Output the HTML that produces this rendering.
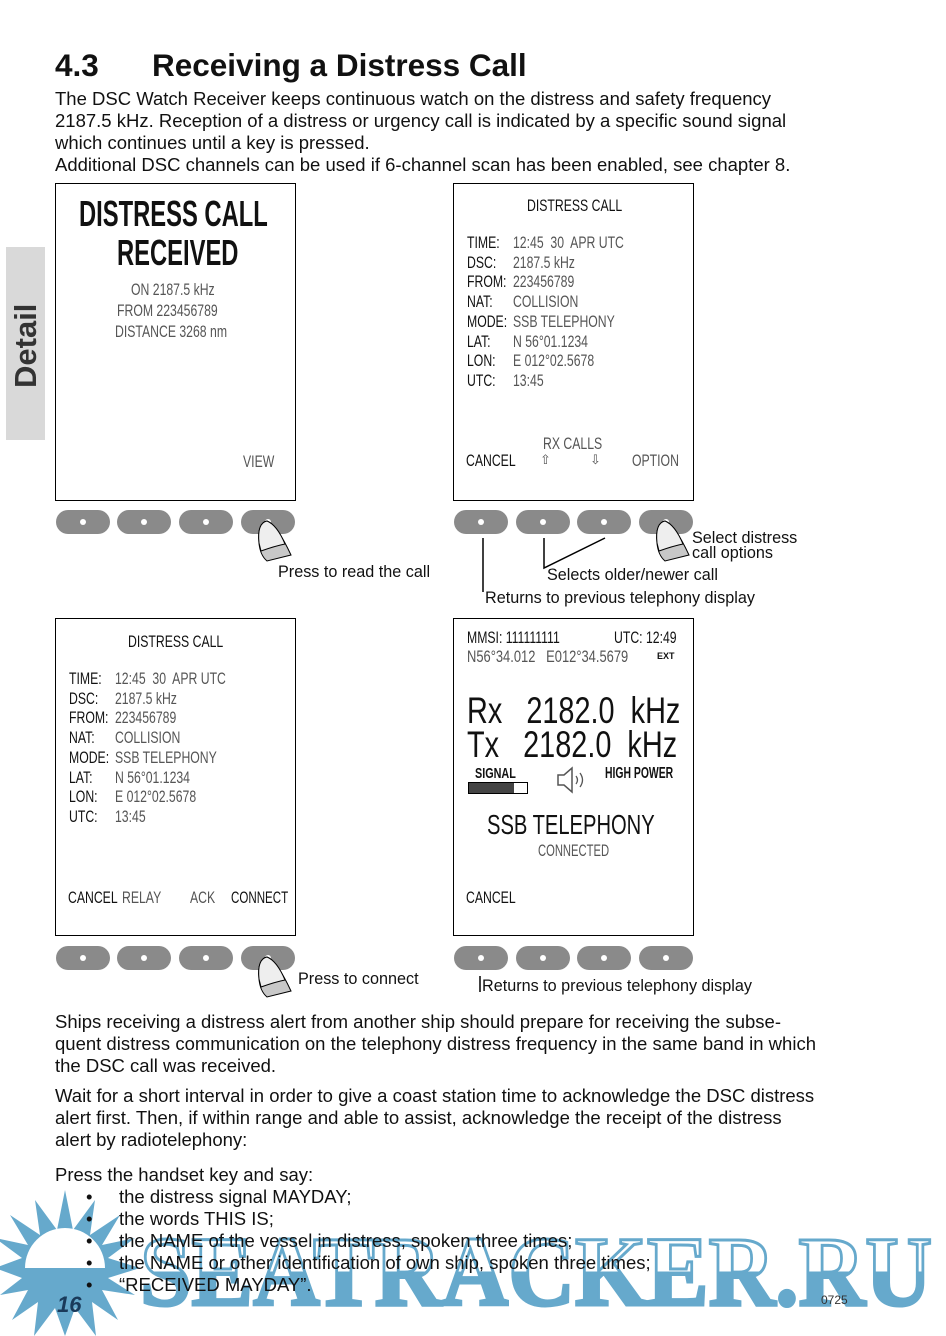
<!DOCTYPE html>
<html><head><meta charset="utf-8"><style>
body{margin:0;width:946px;height:1336px;background:#fff;position:relative;overflow:hidden;font-family:"Liberation Sans",sans-serif;color:#111}
.a{position:absolute;white-space:nowrap}
.l{position:absolute;white-space:nowrap;transform-origin:left top;transform:scaleX(.72);font-family:"Liberation Sans",sans-serif}
.scr{position:absolute;border:1px solid #000;width:239px;height:316px}
.btn{position:absolute;width:54px;height:24px;border-radius:12px;background:#8a8a8a}
.btn::after{content:"";position:absolute;left:24px;top:9px;width:6px;height:6px;border-radius:50%;background:#fff}
.p{font-size:18.5px;line-height:22px}
.g{color:#555}
.cap{font-size:16.2px}
</style></head><body>
<div class="a" style="left:55px;top:47px;font-size:31.5px;font-weight:bold">4.3</div>
<div class="a" style="left:152px;top:47px;font-size:31.5px;font-weight:bold">Receiving a Distress Call</div>
<div class="a p" style="left:55px;top:88px">The DSC Watch Receiver keeps continuous watch on the distress and safety frequency<br>2187.5 kHz. Reception of a distress or urgency call is indicated by a specific sound signal<br>which continues until a key is pressed.<br>Additional DSC channels can be used if 6-channel scan has been enabled, see chapter 8.</div>
<div class="a" style="left:6px;top:247px;width:39px;height:193px;background:#d9d9d9"></div>
<div class="a" style="left:8px;top:388px;font-size:31px;font-weight:bold;color:#333;transform-origin:left top;transform:rotate(-90deg)">Detail</div>

<!-- screen 1 -->
<div class="scr" style="left:55px;top:183px"></div>
<div class="l" style="left:79px;top:193px;font-size:36px;font-weight:bold;transform:scaleX(.66)">DISTRESS CALL</div>
<div class="l" style="left:117px;top:232px;font-size:36px;font-weight:bold;transform:scaleX(.66)">RECEIVED</div>
<div class="l g" style="left:131px;top:280px;font-size:17px">ON 2187.5 kHz</div>
<div class="l g" style="left:117px;top:301px;font-size:17px">FROM 223456789</div>
<div class="l g" style="left:115px;top:322px;font-size:17px">DISTANCE 3268 nm</div>
<div class="l g" style="left:243px;top:452px;font-size:17px">VIEW</div>

<!-- screen 2 -->
<div class="scr" style="left:453px;top:183px"></div>
<div class="l" style="left:527px;top:196px;font-size:17px">DISTRESS CALL</div>
<div class="l" style="left:467px;top:233px;font-size:17px;line-height:19.7px">TIME:<br>DSC:<br>FROM:<br>NAT:<br>MODE:<br>LAT:<br>LON:<br>UTC:</div>
<div class="l g" style="left:513px;top:233px;font-size:17px;line-height:19.7px">12:45&nbsp; 30&nbsp; APR UTC<br>2187.5 kHz<br>223456789<br>COLLISION<br>SSB TELEPHONY<br>N 56°01.1234<br>E 012°02.5678<br>13:45</div>
<div class="l g" style="left:543px;top:434px;font-size:17px">RX CALLS</div>
<div class="l" style="left:466px;top:451px;font-size:17px">CANCEL</div>
<div class="l g" style="left:632px;top:451px;font-size:17px">OPTION</div>
<div class="a g" style="left:540px;top:452px;font-size:13px">⇧</div>
<div class="a g" style="left:590px;top:452px;font-size:13px">⇩</div>

<!-- screen 3 -->
<div class="scr" style="left:55px;top:618px"></div>
<div class="l" style="left:128px;top:632px;font-size:17px">DISTRESS CALL</div>
<div class="l" style="left:69px;top:669px;font-size:17px;line-height:19.7px">TIME:<br>DSC:<br>FROM:<br>NAT:<br>MODE:<br>LAT:<br>LON:<br>UTC:</div>
<div class="l g" style="left:115px;top:669px;font-size:17px;line-height:19.7px">12:45&nbsp; 30&nbsp; APR UTC<br>2187.5 kHz<br>223456789<br>COLLISION<br>SSB TELEPHONY<br>N 56°01.1234<br>E 012°02.5678<br>13:45</div>
<div class="l" style="left:68px;top:888px;font-size:17px">CANCEL</div>
<div class="l g" style="left:122px;top:888px;font-size:17px">RELAY</div>
<div class="l g" style="left:190px;top:888px;font-size:17px">ACK</div>
<div class="l" style="left:231px;top:888px;font-size:17px;transform:scaleX(.68)">CONNECT</div>

<!-- screen 4 -->
<div class="scr" style="left:453px;top:618px"></div>
<div class="l" style="left:467px;top:628px;font-size:17px">MMSI: 111111111</div>
<div class="l" style="left:614px;top:628px;font-size:17px">UTC: 12:49</div>
<div class="l g" style="left:467px;top:647px;font-size:17px;transform:scaleX(.76)">N56°34.012&nbsp;&nbsp; E012°34.5679</div>
<div class="a" style="left:657px;top:651px;font-size:9px;font-weight:bold">EXT</div>
<div class="l" style="left:467px;top:690px;font-size:37px;transform:scaleX(.78)">Rx&nbsp;&nbsp; 2182.0&nbsp; kHz</div>
<div class="l" style="left:467px;top:724px;font-size:37px;transform:scaleX(.78)">Tx&nbsp;&nbsp; 2182.0&nbsp; kHz</div>
<div class="l" style="left:475px;top:765px;font-size:15px;font-weight:bold">SIGNAL</div>
<div class="a" style="left:468px;top:782px;width:58px;height:10px;border:1px solid #000;background:linear-gradient(90deg,#444 78%,#fff 78%)"></div>
<div class="l" style="left:605px;top:765px;font-size:16px;font-weight:bold;transform:scaleX(.65)">HIGH POWER</div>
<svg class="a" style="left:556px;top:766px" width="30" height="28"><path d="M2 9h6l8-7v24l-8-7H2z" fill="none" stroke="#555" stroke-width="1.5"/><path d="M20 10q3 4 0 8M24 7q5 7 0 14" fill="none" stroke="#555" stroke-width="1.3"/></svg>
<div class="l" style="left:487px;top:809px;font-size:28px">SSB TELEPHONY</div>
<div class="l g" style="left:538px;top:841px;font-size:17px;transform:scaleX(.66)">CONNECTED</div>
<div class="l" style="left:466px;top:888px;font-size:17px">CANCEL</div>

<!-- buttons -->
<div class="btn" style="left:56px;top:510px"></div><div class="btn" style="left:117px;top:510px"></div><div class="btn" style="left:179px;top:510px"></div><div class="btn" style="left:241px;top:510px"></div>
<div class="btn" style="left:454px;top:510px"></div><div class="btn" style="left:516px;top:510px"></div><div class="btn" style="left:577px;top:510px"></div><div class="btn" style="left:639px;top:510px"></div>
<div class="btn" style="left:56px;top:946px"></div><div class="btn" style="left:117px;top:946px"></div><div class="btn" style="left:179px;top:946px"></div><div class="btn" style="left:241px;top:946px"></div>
<div class="btn" style="left:454px;top:946px"></div><div class="btn" style="left:516px;top:946px"></div><div class="btn" style="left:577px;top:946px"></div><div class="btn" style="left:639px;top:946px"></div>

<!-- fingers -->
<svg class="a" style="left:255px;top:515px" width="40" height="48"><path d="M4 28 Q2 8 12 6 Q22 10 36 40 L12 46 Q5 40 4 28z" fill="#c8c8c8" stroke="#000"/><path d="M4 28 Q2 8 12 6 Q22 10 30 29 Q20 31 6 36z" fill="#eee" stroke="#000"/></svg>
<svg class="a" style="left:653px;top:515px" width="40" height="48"><path d="M4 28 Q2 8 12 6 Q22 10 36 40 L12 46 Q5 40 4 28z" fill="#c8c8c8" stroke="#000"/><path d="M4 28 Q2 8 12 6 Q22 10 30 29 Q20 31 6 36z" fill="#eee" stroke="#000"/></svg>
<svg class="a" style="left:255px;top:951px" width="40" height="48"><path d="M4 28 Q2 8 12 6 Q22 10 36 40 L12 46 Q5 40 4 28z" fill="#c8c8c8" stroke="#000"/><path d="M4 28 Q2 8 12 6 Q22 10 30 29 Q20 31 6 36z" fill="#eee" stroke="#000"/></svg>

<!-- connector lines -->
<svg class="a" style="left:0;top:0" width="946" height="1336">
<path d="M483 538V592M544 538V568L605 538M480 976V992" stroke="#000" stroke-width="1.5" fill="none"/>
</svg>
<div class="a cap" style="left:278px;top:563px">Press to read the call</div>
<div class="a cap" style="left:692px;top:531px;line-height:15px">Select distress<br>call options</div>
<div class="a cap" style="left:547px;top:566px">Selects older/newer call</div>
<div class="a cap" style="left:485px;top:589px">Returns to previous telephony display</div>
<div class="a cap" style="left:298px;top:970px">Press to connect</div>
<div class="a cap" style="left:482px;top:977px">Returns to previous telephony display</div>

<div class="a p" style="left:55px;top:1011px">Ships receiving a distress alert from another ship should prepare for receiving the subse-<br>quent distress communication on the telephony distress frequency in the same band in which<br>the DSC call was received.</div>
<div class="a p" style="left:55px;top:1085px">Wait for a short interval in order to give a coast station time to acknowledge the DSC distress<br>alert first. Then, if within range and able to assist, acknowledge the receipt of the distress<br>alert by radiotelephony:</div>
<div class="a p" style="left:55px;top:1164px">Press the handset key and say:</div>

<!-- watermark -->
<svg class="a" style="left:0;top:1190px" width="946" height="146">
<defs><linearGradient id="wg" x1="0" y1="0" x2="0" y2="1"><stop offset="0.5" stop-color="#fff"/><stop offset="0.5" stop-color="#66a9cc"/></linearGradient></defs>
<g fill="#66a9cc">
<polygon points="65,0 73,40 95,10 90,45 120,25 102,55 135,48 108,68 140,78 108,88 135,105 102,100 118,130 92,112 96,146 75,118 65,146 55,118 34,146 38,112 12,130 28,100 0,105 22,88 -5,78 22,68 -5,48 28,55 10,25 40,45 35,10 57,40"/>
</g>
<path d="M25 78 A40 40 0 0 1 105 78Z" fill="#fff"/>
<text x="140" y="115" font-family="Liberation Serif,serif" font-weight="bold" font-size="100" textLength="792" lengthAdjust="spacingAndGlyphs" fill="url(#wg)" stroke="#66a9cc" stroke-width="3">SEATRACKER.RU</text>
</svg>
<div class="a p" style="left:86px;top:1186px;line-height:22px">•<br>•<br>•<br>•<br>•</div>
<div class="a p" style="left:119px;top:1186px;line-height:22px">the distress signal MAYDAY;<br>the words THIS IS;<br>the NAME of the vessel in distress, spoken three times;<br>the NAME or other identification of own ship, spoken three times;<br>“RECEIVED MAYDAY”.</div>
<div class="a" style="left:57px;top:1292px;font-size:22px;font-weight:bold;font-style:italic;color:#1a3a5a">16</div>
<div class="a" style="left:821px;top:1293px;font-size:12px;color:#333">0725</div>
</body></html>
